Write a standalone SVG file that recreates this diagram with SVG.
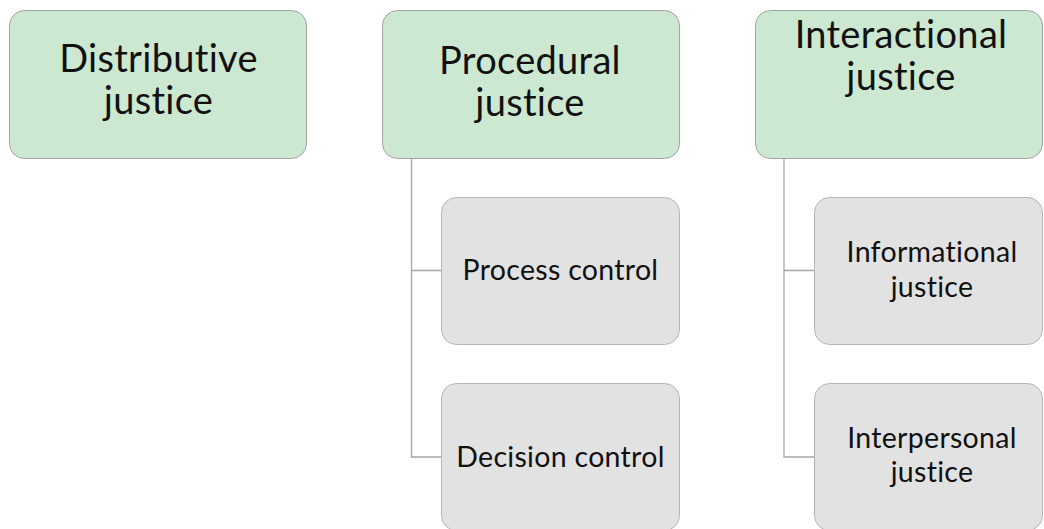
<svg xmlns="http://www.w3.org/2000/svg" width="1044" height="529" viewBox="0 0 1044 529">
<style>
text{font-family:Lato,"Liberation Sans",sans-serif;fill:#111;text-anchor:middle;font-variant-ligatures:none;font-feature-settings:"liga" 0,"clig" 0,"calt" 0,"dlig" 0}
.top{fill:#cde8d0;stroke:#a3a3a3;stroke-width:1}
.sub{fill:#e2e2e2;stroke:#b5b5b5;stroke-width:1}
.t1{font-size:38px;letter-spacing:0.3px}
.t2{font-size:28.5px;letter-spacing:0.3px}
.conn{fill:none;stroke:#a6a6a6;stroke-width:1.3}
</style>
<rect width="1044" height="529" fill="#fff"/>
<g id="connectors">
<path class="conn" d="M411.5 158 V457 H441 M411.5 270.5 H441"/>
<path class="conn" d="M784 158 V457 H814 M784 270.5 H814"/>
</g>
<g id="distributive">
<rect class="top" x="9.5" y="10.5" width="297" height="148" rx="15"/>
<text class="t1" x="158.5" y="72">Distributive</text>
<text class="t1" x="158.5" y="114">justice</text>
</g>
<g id="procedural">
<rect class="top" x="382.5" y="10.5" width="297" height="148" rx="15"/>
<text class="t1" x="530" y="74">Procedural</text>
<text class="t1" x="530" y="116">justice</text>
</g>
<g id="interactional">
<rect class="top" x="755.5" y="10.5" width="287" height="148" rx="15"/>
<text class="t1" x="901" y="48">Interactional</text>
<text class="t1" x="901" y="90">justice</text>
</g>
<g id="process-control">
<rect class="sub" x="441.5" y="197.5" width="238" height="147" rx="15"/>
<text class="t2" x="560.5" y="280">Process control</text>
</g>
<g id="decision-control">
<rect class="sub" x="441.5" y="383.5" width="238" height="147" rx="15"/>
<text class="t2" x="560.5" y="467">Decision control</text>
</g>
<g id="informational">
<rect class="sub" x="814.5" y="197.5" width="228" height="147" rx="15"/>
<text class="t2" x="932" y="262">Informational</text>
<text class="t2" x="932" y="297">justice</text>
</g>
<g id="interpersonal">
<rect class="sub" x="814.5" y="383.5" width="228" height="147" rx="15"/>
<text class="t2" x="932" y="448">Interpersonal</text>
<text class="t2" x="932" y="482">justice</text>
</g>
</svg>
